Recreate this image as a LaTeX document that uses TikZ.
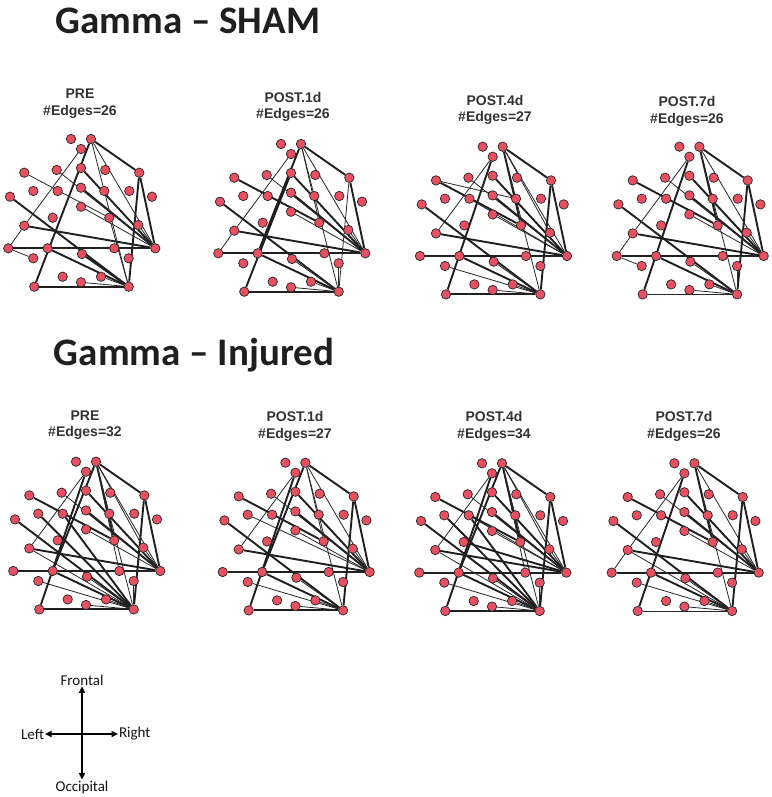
\documentclass[tikz,border=0pt]{standalone}
\usepackage{fontspec}
\setmainfont{Carlito}
\newfontfamily\arialb{Liberation Sans}
\usetikzlibrary{backgrounds,arrows.meta}
\definecolor{nodefill}{RGB}{232,80,98}
\tikzset{
  eeg/.style={circle, draw=black!85, line width=0.7pt, fill=nodefill, minimum size=9.4pt, inner sep=0pt},
  thk/.style={line width=1.9pt, draw=black!88},
  thn/.style={line width=0.8pt, draw=black!85},
  ptitle/.style={font=\arialb\bfseries\fontsize{14}{16.5}\selectfont, text=black!80, align=center},
  gtitle/.style={font=\bfseries\fontsize{39}{40}\selectfont, text=black!88},
  comp/.style={font=\fontsize{15}{16}\selectfont, inner sep=0.8pt, text=black!92},
  carrow/.style={line width=2.2pt, {Triangle[length=6.5pt,width=6pt]}-{Triangle[length=6.5pt,width=6pt]}}
}
\def\eegpos{1/62.7/0, 2/82.7/0, 3/72.7/10, 4/16/33.7, 5/48.4/31, 6/72.7/29, 7/97/31, 8/131/33.7,
  9/1.7/57.7, 10/25/52, 11/49.4/52, 12/72.7/48.7, 13/96/52, 14/121/52, 15/143.7/57.7,
  16/72.7/67.7, 17/44.4/78.7, 18/101/78.7, 19/16/86.7, 20/130/86,
  21/0/109.3, 22/39.4/109.3, 23/73.7/115, 24/106/109.3, 25/147/109.3,
  26/25/119.3, 27/120.4/119.3, 28/54.4/137.7, 29/72.7/143.3, 30/92.7/137.7, 31/26/147.7, 32/120.4/147.7}
\newcommand\eegpanel[5]{%
  \foreach \i/\x/\y in \eegpos { \node[eeg] (#1n\i) at (#2+\x, #3+\y) {}; }
  \begin{pgfonlayer}{background}
    \foreach \a/\b in {#4} { \draw[thk] (#1n\a) -- (#1n\b); }
    \foreach \a/\b in {#5} { \draw[thn] (#1n\a) -- (#1n\b); }
  \end{pgfonlayer}
}
\begin{document}
\begin{tikzpicture}[x=1pt,y=-1pt]
\useasboundingbox (0,0) rectangle (771,797);

\node[gtitle] (g1) at (188,21) {Gamma -- SHAM};
\node[gtitle] (g2) at (194,355) {Gamma -- Injured};

\node[ptitle] (t1) at (80,103.5) {PRE\\\#Edges=26};
\node[ptitle] (t2) at (293,107) {POST.1d\\\#Edges=26};
\node[ptitle] (t3) at (495,110) {POST.4d\\\#Edges=27};
\node[ptitle] (t4) at (687,111.5) {POST.7d\\\#Edges=26};
\node[ptitle] (t5) at (85,425) {PRE\\\#Edges=32};
\node[ptitle] (t6) at (295,426.5) {POST.1d\\\#Edges=27};
\node[ptitle] (t7) at (494,426.5) {POST.4d\\\#Edges=34};
\node[ptitle] (t8) at (684,426.5) {POST.7d\\\#Edges=26};

\eegpanel{a}{8.3}{139}
  {2/8, 2/31, 8/25, 8/32, 9/32, 6/25, 19/25, 21/25, 22/32, 31/32, 12/25, 23/32}
  {2/25, 2/32, 3/19, 4/18, 5/25, 16/25, 18/32, 21/19, 22/25, 26/21, 29/32, 30/32, 24/25, 20/25}
\eegpanel{b}{218.3}{144}
  {2/8, 2/22, 8/25, 9/32, 4/18, 6/25, 12/25, 19/25, 21/25, 22/32, 31/32, 31/6}
  {3/19, 2/25, 2/32, 2/18, 8/32, 5/25, 16/25, 21/19, 23/32, 29/32, 30/32, 27/32, 20/25, 24/25}
\eegpanel{c}{420}{146.7}
  {2/8, 2/18, 8/25, 8/32, 4/18, 9/32, 6/25, 12/25, 19/25, 21/25, 22/32, 31/32, 3/31}
  {2/25, 2/32, 2/20, 3/19, 5/25, 11/25, 16/25, 21/22, 23/32, 26/32, 29/32, 30/32, 24/25, 4/13}
\eegpanel{d}{616.7}{146.7}
  {2/8, 2/18, 8/25, 8/32, 4/18, 9/32, 6/25, 12/25, 19/25, 21/25, 22/32, 3/31}
  {2/25, 2/32, 3/19, 5/25, 16/25, 21/19, 23/32, 26/21, 31/32, 29/32, 30/32, 24/25, 20/25, 27/32}
\eegpanel{e}{13.3}{461.7}
  {2/8, 2/18, 2/22, 8/25, 8/32, 4/18, 9/32, 6/25, 12/25, 19/25, 21/25, 22/32, 3/31, 11/32, 10/32, 31/32}
  {2/25, 2/32, 2/20, 2/24, 3/19, 5/25, 16/25, 19/32, 21/22, 23/32, 26/32, 29/32, 30/32, 24/25, 20/25, 27/32}
\eegpanel{f}{222.7}{462.7}
  {2/8, 2/22, 8/25, 8/32, 4/18, 9/32, 6/25, 12/25, 19/25, 21/25, 22/32, 3/31, 31/32}
  {2/25, 2/32, 2/18, 3/19, 5/25, 16/25, 21/22, 23/32, 26/32, 29/32, 30/32, 24/25, 20/25, 10/25}
\eegpanel{g}{419.3}{463.3}
  {2/8, 2/18, 2/22, 8/25, 8/32, 4/18, 9/32, 6/25, 12/25, 19/25, 21/25, 22/32, 3/31, 11/32, 10/32, 31/32, 17/25}
  {2/25, 2/32, 2/20, 2/24, 3/19, 5/25, 16/25, 19/32, 21/22, 23/32, 26/32, 29/32, 30/32, 24/25, 20/25, 27/32, 11/25}
\eegpanel{h}{611.7}{463.3}
  {2/8, 2/18, 8/25, 8/32, 4/18, 9/32, 6/25, 12/25, 19/25, 21/25, 22/32, 3/31}
  {2/25, 2/32, 3/19, 5/25, 16/25, 21/19, 23/32, 26/32, 31/32, 29/32, 30/32, 24/25, 20/25, 19/32}

% compass
\node[comp] (fr) at (82,680) {Frontal};
\node[comp] (oc) at (82,787) {Occipital};
\node[comp, anchor=east] (le) at (45,734) {Left};
\node[comp, anchor=west] (ri) at (118,734) {Right};
\draw[carrow] (oc) -- (fr);
\draw[carrow] (le) -- (ri);
\end{tikzpicture}
\end{document}
